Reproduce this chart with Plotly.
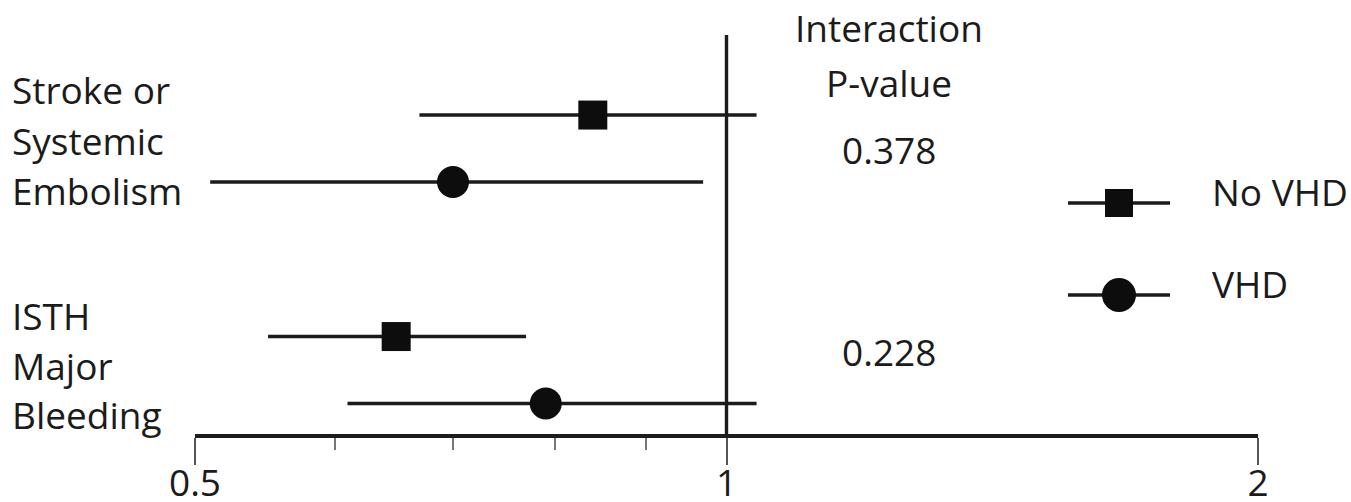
import math
import plotly.graph_objects as go

# Hazard ratios (95% CI) by outcome and valvular heart disease status
outcomes = [["Stroke or", "Systemic", "Embolism"], ["ISTH", "Major", "Bleeding"]]
series = ["No VHD", "VHD"]
hr = {"No VHD": [0.84, 0.65], "VHD": [0.70, 0.79]}
ci_low = {"No VHD": [0.67, 0.55], "VHD": [0.51, 0.61]}
ci_high = {"No VHD": [1.04, 0.77], "VHD": [0.97, 1.04]}
p_interaction = ["0.378", "0.228"]
tick_vals = [0.5, 1, 2]
tick_text = ["0.5", "1", "2"]
minor_ticks = [0.6, 0.7, 0.8, 0.9]

W, H = 1351, 502
FONT = "Open Sans"
INK = "#1b1b1b"
FS = 37
symbols = {"No VHD": "square", "VHD": "circle"}
msize = {"No VHD": 29, "VHD": 32}
offset = {"No VHD": 0.151, "VHD": -0.151}

AXIS_Y = 1 - 436 / H  # paper position of the x axis line


def py(px):
    return 1 - px / H


fig = go.Figure()

for s in series:
    for g in range(len(outcomes)):
        yv = -g + offset[s]
        fig.add_trace(go.Scatter(
            x=[ci_low[s][g], ci_high[s][g]], y=[yv, yv], mode="lines",
            line=dict(color=INK, width=3.4), showlegend=False, hoverinfo="skip"))
    fig.add_trace(go.Scatter(
        x=hr[s], y=[-g + offset[s] for g in range(len(outcomes))], mode="markers",
        marker=dict(symbol=symbols[s], size=msize[s], color="#0d0d0d",
                    line=dict(width=0)),
        name=s, showlegend=False))

# line of no effect
fig.add_shape(type="line", xref="x", yref="paper", x0=1, x1=1,
              y0=AXIS_Y, y1=py(35), line=dict(color=INK, width=3.4), layer="below")

annotations = []
# outcome labels on the left
label_rows = [[89, 140, 190], [315, 365, 414]]
for g, lines in enumerate(outcomes):
    for txt, ypx in zip(lines, label_rows[g]):
        annotations.append(dict(x=10 / W, y=py(ypx), xref="paper", yref="paper",
                                text=txt, showarrow=False, xanchor="left",
                                yanchor="middle"))

# interaction p-values
annotations.append(dict(x=889 / W, y=py(28), text="Interaction"))
annotations.append(dict(x=889 / W, y=py(83), text="P-value"))
for txt, ypx in zip(p_interaction, [150, 351]):
    annotations.append(dict(x=889 / W, y=py(ypx), text=txt))

# legend
legend_rows = {"No VHD": 203, "VHD": 295}
for s in series:
    ly = py(legend_rows[s])
    fig.add_shape(type="line", xref="paper", yref="paper", x0=1068 / W, x1=1170 / W,
                  y0=ly, y1=ly, line=dict(color=INK, width=3.4))
    half = msize[s] // 2 + (1 if s == "VHD" else 0)
    fig.add_shape(type="rect" if s == "No VHD" else "circle",
                  xref="paper", yref="paper", xsizemode="pixel", ysizemode="pixel",
                  xanchor=1119 / W, yanchor=ly, x0=-half, x1=half, y0=-half, y1=half,
                  fillcolor="#0d0d0d", line=dict(width=0))
    annotations.append(dict(x=1210 / W, y=py(legend_rows[s] - 12), text=s,
                            xanchor="left"))

for a in annotations:
    a.setdefault("xref", "paper")
    a.setdefault("yref", "paper")
    a.setdefault("showarrow", False)
    a.setdefault("yanchor", "middle")
    a["font"] = dict(family=FONT, size=FS, color=INK)

fig.update_layout(
    width=W, height=H,
    margin=dict(l=0, r=0, t=0, b=0, autoexpand=False),
    paper_bgcolor="white", plot_bgcolor="white",
    showlegend=False,
    annotations=annotations,
    xaxis=dict(
        type="log", range=[math.log10(0.5), math.log10(2)],
        domain=[195 / W, 1258 / W], anchor="free", position=AXIS_Y,
        showline=True, linecolor=INK, linewidth=3.5,
        showgrid=False, zeroline=False,
        tickmode="array", tickvals=tick_vals, ticktext=tick_text,
        ticks="outside", ticklen=27, tickwidth=2.2, tickcolor="#555555",
        ticklabelstandoff=-13,
        tickfont=dict(family=FONT, size=FS, color=INK),
        minor=dict(tickmode="array", tickvals=minor_ticks, ticks="outside",
                   ticklen=12, tickwidth=2, tickcolor="#777777", showgrid=False),
        automargin=False, fixedrange=True,
    ),
    yaxis=dict(range=[-(H - 148.5) / 221.5, 148.5 / 221.5], domain=[0, 1],
               visible=False, showgrid=False, zeroline=False, fixedrange=True),
)

fig.write_html("out.html")
